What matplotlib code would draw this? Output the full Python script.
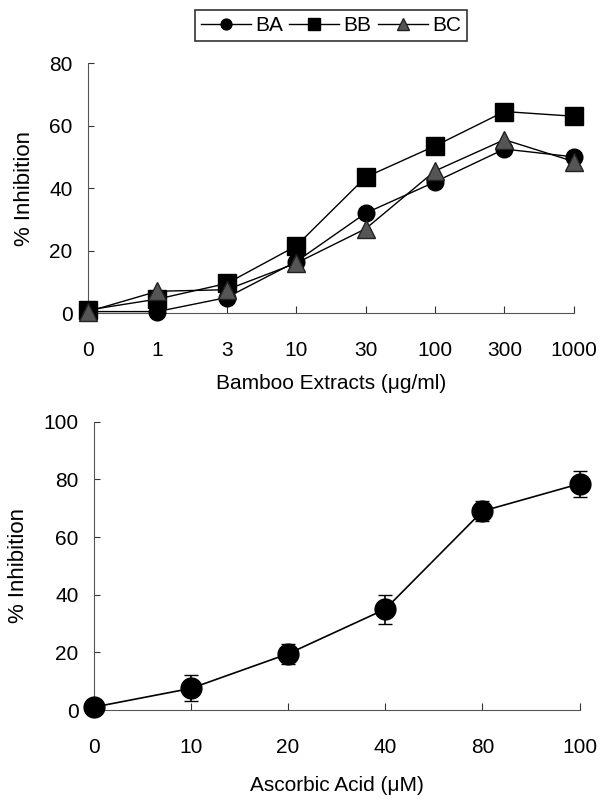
import numpy as np
import matplotlib
matplotlib.use('Agg')
import matplotlib.pyplot as plt

plt.rcParams['font.family'] = ['Liberation Sans', 'DejaVu Sans']

# top panel: bamboo extracts
extract_labels = ['0', '1', '3', '10', '30', '100', '300', '1000']
ba = [0.5, 0.5, 5.0, 16.5, 32.0, 42.0, 52.5, 50.0]
bb = [1.0, 4.5, 9.5, 21.5, 43.5, 53.5, 64.5, 63.0]
bc = [0.5, 7.0, 7.5, 16.0, 27.0, 45.5, 55.5, 48.5]

# bottom panel: ascorbic acid
acid_labels = ['0', '10', '20', '40', '80', '100']
acid = [1.0, 7.5, 19.5, 35.0, 69.0, 78.5]
acid_err = [1.5, 4.5, 3.5, 5.0, 3.5, 4.5]


def style_axis(ax):
    ax.spines['top'].set_visible(False)
    ax.spines['right'].set_visible(False)
    ax.spines['left'].set_color('#555555')
    ax.spines['bottom'].set_color('#555555')
    ax.tick_params(axis='x', direction='in', length=5, pad=20, labelsize=15, color='#333333')
    ax.tick_params(axis='y', direction='in', length=4, pad=11, labelsize=15, color='#333333')


fig = plt.figure(figsize=(6.05, 8.05), dpi=100)

ax1 = fig.add_axes([0.1455, 0.611, 0.803, 0.3106])
x1 = np.arange(len(extract_labels))
ax1.plot(x1, ba, '-o', color='black', lw=1, ms=12, clip_on=False, zorder=3, label='BA')
ax1.plot(x1, bb, '-s', color='black', lw=1, ms=13, clip_on=False, zorder=3, label='BB')
ax1.plot(x1, bc, '-^', color='black', mfc='#555555', mec='#222222', lw=1, ms=13,
         clip_on=False, zorder=4, label='BC')
ax1.set_xlim(0, 7)
ax1.set_ylim(0, 80)
ax1.set_xticks(x1)
ax1.set_xticklabels(extract_labels)
ax1.set_yticks([0, 20, 40, 60, 80])
ax1.set_xlabel('Bamboo Extracts (\u03bcg/ml)', fontsize=15, labelpad=10)
ax1.set_ylabel('% Inhibition', fontsize=16, labelpad=10)
style_axis(ax1)
leg = ax1.legend(loc='lower center', bbox_to_anchor=(0.5, 1.045), ncol=3, frameon=True,
                 fancybox=False, edgecolor='black', fontsize=15, markerscale=0.65,
                 handlelength=2.4, handletextpad=0.2, columnspacing=0.3,
                 borderpad=0.3)
leg.get_frame().set_linewidth(1.2)

ax2 = fig.add_axes([0.155, 0.118, 0.803, 0.358])
x2 = np.arange(len(acid_labels))
ax2.errorbar(x2, acid, yerr=acid_err, fmt='-o', color='black', lw=1.2, ms=15,
             capsize=5, elinewidth=1.2, clip_on=False, zorder=3)
ax2.set_xlim(0, 5)
ax2.set_ylim(0, 100)
ax2.set_xticks(x2)
ax2.set_xticklabels(acid_labels)
ax2.set_yticks([0, 20, 40, 60, 80, 100])
ax2.set_xlabel('Ascorbic Acid (\u03bcM)', fontsize=15, labelpad=14)
ax2.set_ylabel('% Inhibition', fontsize=16, labelpad=10)
style_axis(ax2)

fig.savefig('out.png', dpi=100)
